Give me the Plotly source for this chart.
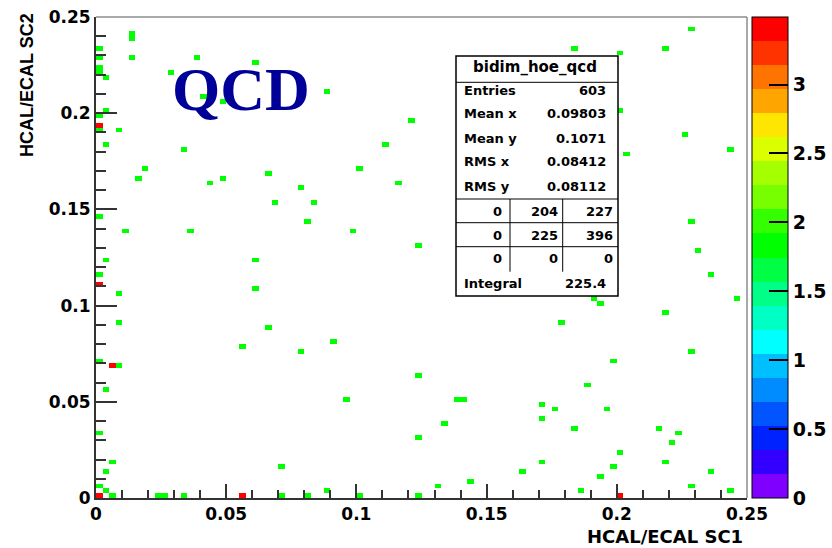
import plotly.graph_objects as go

# 2D histogram: 100 x 100 bins over [0, 0.25] x [0, 0.25]
N_BINS = 100
X_MIN, X_MAX = 0.0, 0.25
Y_MIN, Y_MAX = 0.0, 0.25
BIN_W = (X_MAX - X_MIN) / N_BINS

# filled bins (bin centres) holding a single weighted entry
single_x = [
    0.01375, 0.01375, 0.00125, 0.00125, 0.00125, 0.00125, 0.00125, 0.00125, 0.00125,
    0.00375, 0.00375, 0.00875, 0.00375, 0.01375, 0.03875, 0.06125, 0.02875, 0.04125,
    0.04875, 0.03375, 0.08875, 0.03375, 0.01875, 0.01625, 0.04375, 0.04875, 0.06625,
    0.07875, 0.06875, 0.08375, 0.08125, 0.01125, 0.03625, 0.00375, 0.06125,
    0.12125, 0.11125, 0.10125, 0.11625, 0.09875, 0.12375,
    0.22875, 0.18375, 0.20125, 0.21875, 0.20125, 0.22625, 0.20375, 0.24375, 0.22875, 0.23125,
    0.00125, 0.00875, 0.06125, 0.00875, 0.06625, 0.05625, 0.07875, 0.00125, 0.00875,
    0.00375, 0.00125, 0.00625, 0.00375, 0.07125, 0.00125, 0.00375, 0.00625, 0.02375,
    0.02625, 0.03375, 0.07125, 0.08125,
    0.09125, 0.12375, 0.09625, 0.13875, 0.14125, 0.13375, 0.12375, 0.16375, 0.08875,
    0.13125, 0.14375, 0.10125, 0.12375,
    0.23625, 0.24625, 0.19125, 0.19375, 0.21875, 0.17875, 0.22875, 0.19875, 0.18875,
    0.17125, 0.17625, 0.19625, 0.17125, 0.18375, 0.21625, 0.22375, 0.22125, 0.20125,
    0.17125, 0.21875, 0.19875, 0.19375, 0.23625, 0.22875, 0.18625, 0.24375,
]
single_y = [
    0.23875, 0.24125, 0.23375, 0.22875, 0.22375, 0.22125, 0.19875, 0.19125, 0.14625,
    0.21875, 0.20125, 0.19125, 0.18375, 0.22875, 0.22875, 0.22625, 0.22125, 0.20875,
    0.20625, 0.21875, 0.21125, 0.18125, 0.17125, 0.16625, 0.16375, 0.16625, 0.16875,
    0.16125, 0.15375, 0.15375, 0.14375, 0.13875, 0.13875, 0.12375, 0.12375,
    0.19625, 0.18375, 0.17125, 0.16375, 0.13875, 0.13125,
    0.24375, 0.23375, 0.23125, 0.23375, 0.20125, 0.18875, 0.17875, 0.18125, 0.14375, 0.12875,
    0.11625, 0.10625, 0.10875, 0.09125, 0.08875, 0.07875, 0.07625, 0.07125, 0.06875,
    0.05625, 0.03375, 0.01875, 0.01375, 0.01625, 0.00625, 0.00375, 0.00125, 0.00125,
    0.00125, 0.00125, 0.00125, 0.00125,
    0.08125, 0.06375, 0.05125, 0.05125, 0.05125, 0.03875, 0.03125, 0.01375, 0.00375,
    0.00625, 0.00875, 0.00125, 0.00125,
    0.11625, 0.10375, 0.10375, 0.10125, 0.09625, 0.09125, 0.07625, 0.07125, 0.05875,
    0.04875, 0.04625, 0.04625, 0.04125, 0.03625, 0.03625, 0.03375, 0.02875, 0.02375,
    0.01875, 0.01875, 0.01625, 0.01125, 0.01375, 0.00625, 0.00375, 0.00375,
]
# filled bins holding two entries
double_x = [0.00125, 0.00125, 0.00625, 0.00125, 0.05625, 0.20125]
double_y = [0.19375, 0.11125, 0.06875, 0.00125, 0.00125, 0.00125]

ENTRY_WEIGHT = 1.75
Z_MAX = 3.49

# statistics box contents
stats_title = "bidim_hoe_qcd"
stats_labels = ["Entries", "Mean x", "Mean y", "RMS x", "RMS y"]
stats_values = ["603", "0.09803", "0.1071", "0.08412", "0.08112"]
overflow_rows = [["0", "204", "227"], ["0", "225", "396"], ["0", "0", "0"]]
integral_value = "225.4"

# 20-level palette, bottom to top
palette = [
    "#7f00ff", "#3300ff", "#0022ff", "#0055ff", "#008cff",
    "#00bfff", "#00ffff", "#00ffc4", "#00ff88", "#00ff44",
    "#00ff00", "#33ff00", "#77ff00", "#a6ff00", "#dcff00",
    "#ffe600", "#ffa500", "#ff7300", "#ff3300", "#ff0000",
]

# fill the bin-content matrix
z = [[None] * N_BINS for _ in range(N_BINS)]


def fill(xs, ys, w):
    for xv, yv in zip(xs, ys):
        i = int(round((xv - X_MIN) / BIN_W - 0.5))
        j = int(round((yv - Y_MIN) / BIN_W - 0.5))
        z[j][i] = (z[j][i] or 0.0) + w


fill(single_x, single_y, ENTRY_WEIGHT)
fill(double_x, double_y, 2 * ENTRY_WEIGHT)

n = len(palette)
colorscale = []
for k, c in enumerate(palette):
    lo = k / n
    hi = (k + 1) / n - 1e-6 if k < n - 1 else 1.0
    colorscale.append([lo, c])
    colorscale.append([hi, c])

BOLD = "DejaVu Sans"

fig = go.Figure(
    go.Heatmap(
        z=z,
        x0=X_MIN + BIN_W / 2, dx=BIN_W,
        y0=Y_MIN + BIN_W / 2, dy=BIN_W,
        zmin=0, zmax=Z_MAX,
        colorscale=colorscale,
        hoverinfo="skip",
        colorbar=dict(
            x=1.007, xanchor="left", xpad=0,
            y=0.5, yanchor="middle", len=1, lenmode="fraction", ypad=0,
            thickness=36, thicknessmode="pixels",
            outlinecolor="black", outlinewidth=1,
            ticks="inside", ticklen=19, tickwidth=1.5, tickcolor="black",
            tickmode="linear", tick0=0, dtick=0.5,
            tickfont=dict(family=BOLD, size=19, color="black", weight="bold"),
        ),
    )
)

axis_common = dict(
    showgrid=False, zeroline=False,
    showline=True, linecolor="#333", linewidth=2,
    ticks="inside", tickwidth=2, tickcolor="#333",
    tickmode="linear", tick0=0, dtick=0.05,
    tickfont=dict(family=BOLD, size=17, color="black", weight="bold"),
)

fig.update_xaxes(range=[X_MIN, X_MAX], ticklen=14,
                 minor=dict(ticks="inside", dtick=0.01, ticklen=8,
                            tickwidth=2, tickcolor="#333", showgrid=False),
                 **axis_common)
fig.update_yaxes(range=[Y_MIN, Y_MAX], ticklen=21,
                 minor=dict(ticks="inside", dtick=0.01, ticklen=10,
                            tickwidth=2, tickcolor="#333", showgrid=False),
                 **axis_common)


def px_x(px):
    return (px - 96) / 651


def px_y(py):
    return (498 - py) / 481


shapes = [
    # frame top and right
    dict(type="line", xref="paper", yref="paper", x0=0, x1=1, y0=1, y1=1,
         line=dict(color="#8c8c8c", width=1.5)),
    dict(type="line", xref="paper", yref="paper", x0=1, x1=1, y0=0, y1=1,
         line=dict(color="#8c8c8c", width=1.5)),
]

# statistics box
bx0, bx1 = px_x(456), px_x(618)
by0, by1 = px_y(296), px_y(56)
shapes.append(dict(type="rect", xref="paper", yref="paper", x0=bx0, x1=bx1, y0=by0, y1=by1,
                   fillcolor="white", line=dict(color="black", width=1.5), layer="above"))
for py in (82.3, 199, 222.7, 246.7):
    shapes.append(dict(type="line", xref="paper", yref="paper", x0=bx0, x1=bx1,
                       y0=px_y(py), y1=px_y(py), line=dict(color="black", width=1), layer="above"))
for pxv in (510, 562.7):
    shapes.append(dict(type="line", xref="paper", yref="paper", x0=px_x(pxv), x1=px_x(pxv),
                       y0=px_y(271.7), y1=px_y(199), line=dict(color="black", width=1), layer="above"))

annotations = []
stat_font = dict(family=BOLD, size=13, color="black", weight="bold")


def note(text, px, py, xanchor, font=stat_font, yanchor="middle", **kw):
    annotations.append(dict(text=text, xref="paper", yref="paper", x=px_x(px), y=px_y(py),
                            xanchor=xanchor, yanchor=yanchor, showarrow=False, font=font, **kw))


note(stats_title, 535, 67, "center", font=dict(family=BOLD, size=15, color="black", weight="bold"))
for label, value, py in zip(stats_labels, stats_values, (90.7, 113.3, 138, 162, 186.5)):
    note(label, 462, py, "left")
    note(value, 608, py, "right")
for row, py in zip(overflow_rows, (211.7, 235, 258.3)):
    for cell, pxr in zip(row, (504, 560, 615)):
        note(cell, pxr, py, "right")
note("Integral", 462, 283.3, "left")
note(integral_value, 608, 283.3, "right")

# axis titles
note("HCAL/ECAL SC1", 744, 548, "right", yanchor="bottom", borderpad=0,
     font=dict(family=BOLD, size=18, color="black", weight="bold"))
annotations.append(dict(text="HCAL/ECAL SC2", xref="paper", yref="paper",
                        x=px_x(27), y=px_y(11), xanchor="center", yanchor="top",
                        textangle=-90, showarrow=False,
                        font=dict(family="Liberation Sans", size=18, color="black", weight="bold")))

# sample label
note("QCD", 170, 89, "left",
     font=dict(family="Liberation Serif", size=62, color="#000099", weight="bold"))

fig.update_layout(
    width=832, height=548, autosize=False,
    margin=dict(l=96, r=85, t=17, b=50, pad=0, autoexpand=False),
    paper_bgcolor="white", plot_bgcolor="white",
    shapes=shapes, annotations=annotations,
    showlegend=False,
)

fig.write_html("out.html")
